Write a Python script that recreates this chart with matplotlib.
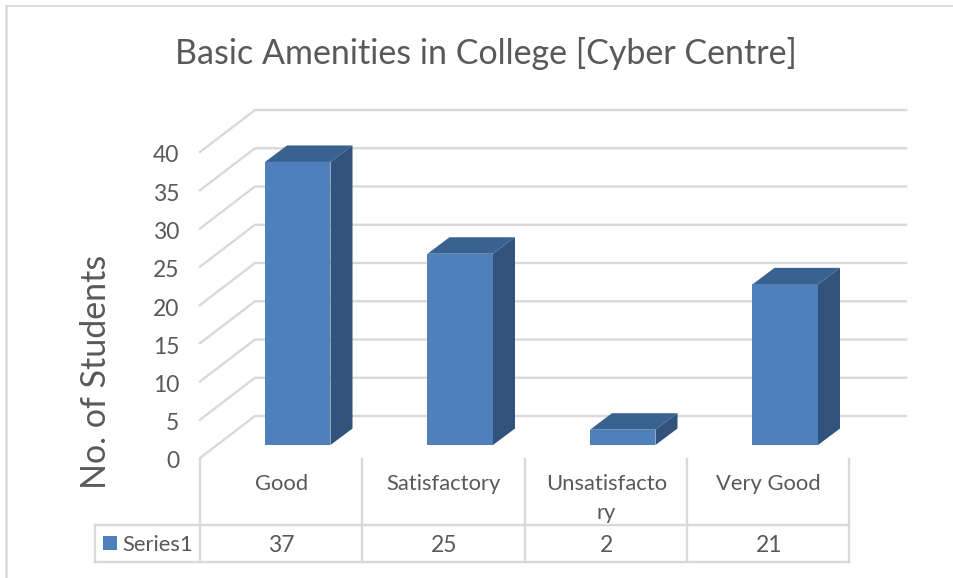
import matplotlib
matplotlib.use('Agg')
import matplotlib.pyplot as plt
from matplotlib.patches import Polygon, Rectangle
from matplotlib.transforms import ScaledTranslation

categories = ['Good', 'Satisfactory', 'Unsatisfacto\nry', 'Very Good']
values = [37, 25, 2, 21]
series_name = 'Series1'
title = 'Basic Amenities in College [Cyber Centre]'
ylabel = 'No. of Students'
y_ticks = [0, 5, 10, 15, 20, 25, 30, 35, 40]

W, H = 954, 578
plt.rcParams['font.family'] = ['Lato', 'DejaVu Sans']
TXT = '#595959'
GRID = '#d9d9d9'
FRONT = '#4f80bc'

fig = plt.figure(figsize=(W / 100, H / 100), dpi=100)

# axes = the front plane of the 3d box, 200-850 px wide, 0-40 is 458-152 px
ax = fig.add_axes([200 / W, (H - 458) / H, 650 / W, 306 / H])
ax.set_xlim(0, 4)
ax.set_ylim(0, 40)
for s in ax.spines.values():
    s.set_visible(False)
ax.patch.set_visible(False)

px_x = 4 / 650    # data units per pixel
px_y = 40 / 306


def X(p):
    return (p - 200) * px_x


def Y(p):
    return (458 - p) * px_y


ax.set_xticks([])
ax.set_yticks(y_ticks)
ax.tick_params(axis='y', length=0, pad=15, labelsize=16.5, labelcolor=TXT)
# labels sit 2 px lower than the default centring
for lab in ax.get_yticklabels():
    lab.set_transform(lab.get_transform() + ScaledTranslation(0, -2 / 100, fig.dpi_scale_trans))

# back wall + side wall gridlines
back_dx = 55 * px_x
back_dy = 42 * px_y
for t in y_ticks:
    ax.plot([0, back_dx, X(906)], [t, t + back_dy, t + back_dy], color=GRID, lw=1.7,
            clip_on=False, zorder=1, solid_joinstyle='miter')

# bars
bar_w = 65.5 * px_x
off_x = 16.5 * px_x   # bar front is pushed back into the box
off_y = 13 * px_y
dep_x = 22 * px_x
dep_y = 16.5 * px_y
for i, v in enumerate(values):
    x0 = i + 0.5 - bar_w / 2 + off_x
    y0 = off_y
    x1 = x0 + bar_w
    y1 = y0 + v
    ax.add_patch(Rectangle((x0, y0), bar_w, v, fc=FRONT, ec='none', zorder=4, clip_on=False))
    ax.add_patch(Polygon([(x0, y1), (x1, y1), (x1 + dep_x, y1 + dep_y), (x0 + dep_x, y1 + dep_y)],
                         fc='#3a6291', ec='none', zorder=3, clip_on=False))
    ax.add_patch(Polygon([(x1, y0), (x1 + dep_x, y0 + dep_y), (x1 + dep_x, y1 + dep_y), (x1, y1)],
                         fc='#31527b', ec='none', zorder=3, clip_on=False))

# data table under the axes
for p in [200, 362.5, 525, 687.5, 849.5]:
    ax.plot([X(p), X(p)], [Y(459), Y(562)], color=GRID, lw=1.7, clip_on=False, zorder=1)
ax.plot([X(95), X(95)], [Y(525), Y(562)], color=GRID, lw=1.7, clip_on=False, zorder=1)
for p in [525, 562]:
    ax.plot([X(95), X(849.5)], [Y(p), Y(p)], color=GRID, lw=1.7, clip_on=False, zorder=1)

for i, c in enumerate(categories):
    parts = c.split('\n')
    ax.text(i + 0.5, Y(484), parts[0], ha='center', va='center', fontsize=15.8, color=TXT)
    if len(parts) > 1:
        ax.text(i + 0.5, Y(513), parts[1], ha='center', va='center', fontsize=15.8, color=TXT)
    ax.text(i + 0.5, Y(545), str(values[i]), ha='center', va='center', fontsize=16.5, color=TXT)

ax.add_patch(Rectangle((X(103), Y(550)), 14 * px_x, 14 * px_y, fc=FRONT, ec='none', clip_on=False))
ax.text(X(122), Y(545), series_name, ha='left', va='center', fontsize=15.8, color=TXT)

# title and y label
fig.text(486 / W, 1 - 53 / H, title, ha='center', va='center', fontsize=24.5, color=TXT)
fig.text(96 / W, 1 - 372 / H, ylabel, ha='center', va='center', rotation=90, fontsize=24.5, color=TXT)

# chart frame, only top and left are in the crop
fig.add_artist(plt.Line2D([6 / W, 6 / W], [0.002, 1 - 5.5 / H], color=GRID, lw=1.8))
fig.add_artist(plt.Line2D([6 / W, 1], [1 - 5.5 / H, 1 - 5.5 / H], color=GRID, lw=1.2))

fig.savefig('out.png', dpi=100)
